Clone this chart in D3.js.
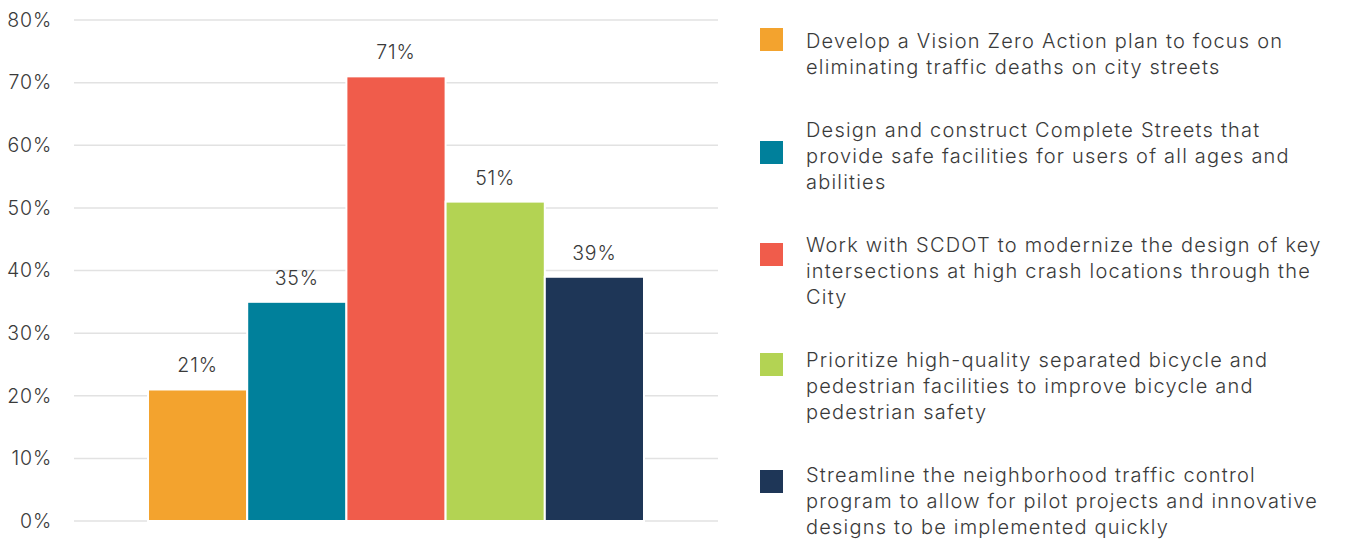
<!DOCTYPE html>
<html>
<head>
<meta charset="utf-8">
<script src="https://cdn.jsdelivr.net/npm/d3@7"></script>
<style>
  html, body { margin: 0; padding: 0; background: #fff; }
  svg { display: block; }
  text { font-family: "Inter", "Open Sans", sans-serif; font-weight: 300; fill: #3a3a3a; }
</style>
</head>
<body>
<svg id="chart" width="1346" height="542"></svg>
<script>
// Share of respondents supporting each safety strategy
const legendLines = [
  ["Develop a Vision Zero Action plan to focus on", "eliminating traffic deaths on city streets"],
  ["Design and construct Complete Streets that", "provide safe facilities for users of all ages and", "abilities"],
  ["Work with SCDOT to modernize the design of key", "intersections at high crash locations through the", "City"],
  ["Prioritize high-quality separated bicycle and", "pedestrian facilities to improve bicycle and", "pedestrian safety"],
  ["Streamline the neighborhood traffic control", "program to allow for pilot projects and innovative", "designs to be implemented quickly"]
];
const values = [0.21, 0.35, 0.71, 0.51, 0.39];
const colors = ["#F3A32E", "#00809B", "#F05C4B", "#B3D353", "#1E3657"];
const yTicks = [0, 0.1, 0.2, 0.3, 0.4, 0.5, 0.6, 0.7, 0.8];

const svg = d3.select("#chart");
const pct = d3.format(".0%");

const plot = { left: 74, right: 718, top: 20, bottom: 521 };

const y = d3.scaleLinear().domain([0, 0.8]).range([plot.bottom, plot.top]);
const x = d3.scaleBand()
  .domain(d3.range(values.length))
  .range([148, 644])
  .paddingInner(0);

// spread letters so a reference string spans the wanted width
function fitSpacing(sel, sampleNode, targetWidth) {
  const n = sampleNode.textContent.length;
  const w = sampleNode.getComputedTextLength();
  const ls = Math.max(0, (targetWidth - w) / (n - 1));
  sel.attr("letter-spacing", ls);
}

// gridlines
svg.append("g")
  .selectAll("line")
  .data(yTicks)
  .join("line")
  .attr("x1", plot.left)
  .attr("x2", plot.right)
  .attr("y1", d => y(d))
  .attr("y2", d => y(d))
  .attr("stroke", "#e2e2e2")
  .attr("stroke-width", 1.5);

// y axis labels
const yAxis = d3.axisLeft(y)
  .tickValues(yTicks)
  .tickFormat(pct)
  .tickSize(0)
  .tickPadding(0);
const yg = svg.append("g")
  .attr("transform", "translate(53,0)")
  .call(yAxis)
  .attr("font-family", null)
  .attr("font-size", null);
yg.select(".domain").remove();
const yLabels = yg.selectAll("text")
  .attr("font-size", 19.5)
  .attr("fill", "#3a3a3a");
fitSpacing(yLabels, yLabels.nodes()[yLabels.size() - 1], 44);
yLabels.attr("dx", function () { return -parseFloat(d3.select(this).attr("letter-spacing")); });

// bars
svg.append("g")
  .selectAll("rect")
  .data(values)
  .join("rect")
  .attr("x", (d, i) => x(i))
  .attr("width", x.bandwidth())
  .attr("y", d => y(d))
  .attr("height", d => y(0) - y(d))
  .attr("fill", (d, i) => colors[i])
  .attr("stroke", "#fff")
  .attr("stroke-width", 2);

// value labels
const valLabels = svg.append("g")
  .selectAll("text")
  .data(values)
  .join("text")
  .attr("x", (d, i) => x(i) + x.bandwidth() / 2)
  .attr("y", d => y(d) - 17)
  .attr("text-anchor", "middle")
  .attr("font-size", 19.5)
  .text(d => pct(d));
valLabels.attr("letter-spacing", yLabels.attr("letter-spacing"));

// legend
const lineH = 26;
const itemGap = 37;
const swatchShift = [-2, 22, 9, 4, 6];
const legend = svg.append("g");
let cy = 41;
legendLines.forEach((lines, i) => {
  const g = legend.append("g");
  g.append("rect")
    .attr("x", 760)
    .attr("y", cy + swatchShift[i] - 11)
    .attr("width", 23)
    .attr("height", 23)
    .attr("fill", colors[i]);
  g.selectAll("text")
    .data(lines)
    .join("text")
    .attr("class", "legend-text")
    .attr("x", 806)
    .attr("y", (d, j) => cy + j * lineH)
    .attr("dy", "0.35em")
    .attr("font-size", 20)
    .text(d => d);
  cy += lines.length * lineH + itemGap;
});
const legendText = legend.selectAll("text.legend-text");
fitSpacing(legendText, legendText.nodes()[0], 476);
</script>
</body>
</html>
